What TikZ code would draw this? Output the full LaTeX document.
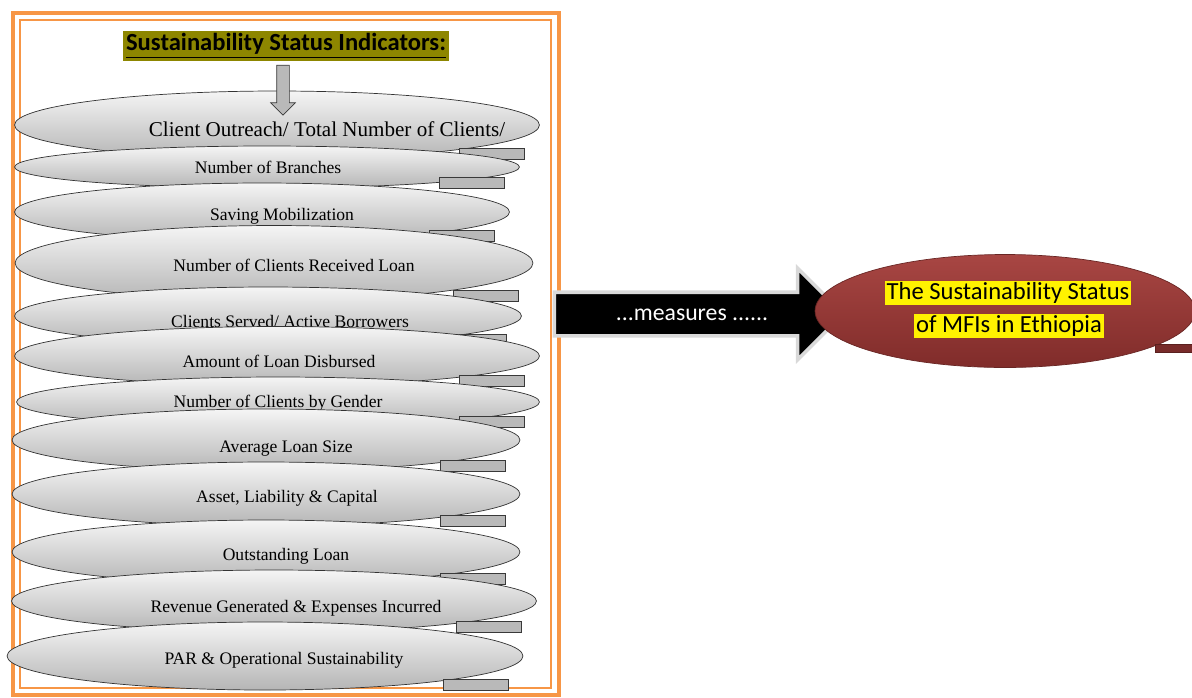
\documentclass[tikz,border=0pt]{standalone}
\usepackage{fontspec}
\setmainfont{Liberation Serif}
\newfontfamily\calibri{Carlito}
\usetikzlibrary{shapes.geometric,shapes.arrows,calc}
\definecolor{frameorange}{RGB}{247,150,70}
\definecolor{mfired}{RGB}{150,54,52}
\tikzset{
  ind/.style={ellipse, draw=gray!40!black, inner sep=0pt, top color=gray!8, bottom color=gray!58},
  itext/.style={inner sep=0pt, font=\fontsize{10}{12}\selectfont},
  tab/.style={draw=gray!45!black, fill=gray!55},
}

\begin{document}
\begin{tikzpicture}[x=0.02cm, y=-0.02cm]
      \useasboundingbox (0,0) rectangle (1192,697);
      \fill[white] (0,0) rectangle (1192,697);
      \draw[frameorange, line width=2.2pt] (13,13) rectangle (559,695);
      \draw[frameorange, line width=0.9pt] (20,20) rectangle (551,688);
      \node[fill=olive, inner sep=1.5pt, font=\calibri\bfseries\fontsize{14}{16}\selectfont] (title) at (286,46) {\underline{Sustainability Status Indicators:}};
      \node[ind, minimum width=10.5cm, minimum height=1.36cm] (i1) at (277,125) {};
      \node[itext, font=\fontsize{12}{14}\selectfont] (t1) at (327,129) {Client Outreach/ Total Number of Clients/};
      \node[single arrow, rotate=-90, draw=gray!45!black, fill=gray!55, minimum height=1cm, minimum width=0.48cm, inner sep=0.12cm, single arrow head extend=0.12cm] (down) at (283,87) {};
      \draw[tab] ($(i1.east |- i1.south)+(-80,-11)$) rectangle ($(i1.east |- i1.south)+(-15,0)$);
      \node[ind, minimum width=10.1cm, minimum height=0.84cm] (i2) at (267,167) {};
      \node[itext] (t2) at (268,167) {Number of Branches};
      \draw[tab] ($(i2.east |- i2.south)+(-80,-11)$) rectangle ($(i2.east |- i2.south)+(-15,0)$);
      \node[ind, minimum width=9.9cm, minimum height=1.16cm] (i3) at (262,212) {};
      \node[itext] (t3) at (282,216) {Saving Mobilization};
      \draw[tab] ($(i3.east |- i3.south)+(-80,-11)$) rectangle ($(i3.east |- i3.south)+(-15,0)$);
      \node[ind, minimum width=10.36cm, minimum height=1.5cm] (i4) at (274,263) {};
      \node[itext] (t4) at (294,265) {Number of Clients Received Loan};
      \draw[tab] ($(i4.east |- i4.south)+(-80,-11)$) rectangle ($(i4.east |- i4.south)+(-15,0)$);
      \node[ind, minimum width=10.14cm, minimum height=1.16cm] (i5) at (268,316) {};
      \node[itext] (t5) at (290,321) {Clients Served/ Active Borrowers};
      \draw[tab] ($(i5.east |- i5.south)+(-80,-11)$) rectangle ($(i5.east |- i5.south)+(-15,0)$);
      \node[ind, minimum width=10.5cm, minimum height=1.18cm] (i6) at (277,356) {};
      \node[itext] (t6) at (279,361) {Amount of Loan Disbursed};
      \draw[tab] ($(i6.east |- i6.south)+(-80,-11)$) rectangle ($(i6.east |- i6.south)+(-15,0)$);
      \node[ind, minimum width=10.46cm, minimum height=1.0cm] (i7) at (278,402) {};
      \node[itext] (t7) at (278,403) {Number of Clients by Gender};
      \draw[tab] ($(i7.east |- i7.south)+(-80,-11)$) rectangle ($(i7.east |- i7.south)+(-15,0)$);
      \node[ind, minimum width=10.16cm, minimum height=1.24cm] (i8) at (266,440) {};
      \node[itext] (t8) at (286,449) {Average Loan Size};
      \draw[tab] ($(i8.east |- i8.south)+(-80,-11)$) rectangle ($(i8.east |- i8.south)+(-15,0)$);
      \node[ind, minimum width=10.16cm, minimum height=1.28cm] (i9) at (266,494) {};
      \node[itext] (t9) at (287,498) {Asset, Liability \& Capital};
      \draw[tab] ($(i9.east |- i9.south)+(-80,-11)$) rectangle ($(i9.east |- i9.south)+(-15,0)$);
      \node[ind, minimum width=10.16cm, minimum height=1.28cm] (i10) at (266,552) {};
      \node[itext] (t10) at (286,556) {Outstanding Loan};
      \draw[tab] ($(i10.east |- i10.south)+(-80,-11)$) rectangle ($(i10.east |- i10.south)+(-15,0)$);
      \node[ind, minimum width=10.5cm, minimum height=1.24cm] (i11) at (274,601) {};
      \node[itext] (t11) at (296,608) {Revenue Generated \& Expenses Incurred};
      \draw[tab] ($(i11.east |- i11.south)+(-80,-11)$) rectangle ($(i11.east |- i11.south)+(-15,0)$);
      \node[ind, minimum width=10.32cm, minimum height=1.36cm] (i12) at (265,656) {};
      \node[itext] (t12) at (284,660) {PAR \& Operational Sustainability};
      \draw[tab] ($(i12.east |- i12.south)+(-80,-11)$) rectangle ($(i12.east |- i12.south)+(-15,0)$);
      \node[single arrow, draw=gray!30, line width=2pt, fill=black, minimum height=5.78cm, minimum width=1.76cm, inner sep=0.4cm, single arrow head extend=0.48cm] (meas) at (688,314) {};
      \node[text=white, font=\calibri\fontsize{13.5}{16}\selectfont] (meastext) at (692,315) {...measures ......};
      \node[ellipse, draw=mfired!70!black, top color={rgb,255:red,168;green,70;blue,67}, bottom color={rgb,255:red,128;green,44;blue,42}, minimum width=7.6cm, minimum height=2.26cm] (mfi) at (1005,311) {};
      \draw[draw=mfired!60!black, fill=mfired!80!black] ($(mfi.east |- mfi.south)+(-40,-23)$) rectangle ($(mfi.east |- mfi.south)+(10,-15)$);
      \node[fill=yellow, inner sep=1pt, font=\calibri\fontsize{14}{16}\selectfont] (st1) at (1008,293) {The Sustainability Status};
      \node[fill=yellow, inner sep=1pt, font=\calibri\fontsize{14}{16}\selectfont] (st2) at (1009,326) {of MFIs in Ethiopia};
    \end{tikzpicture}
\end{document}
